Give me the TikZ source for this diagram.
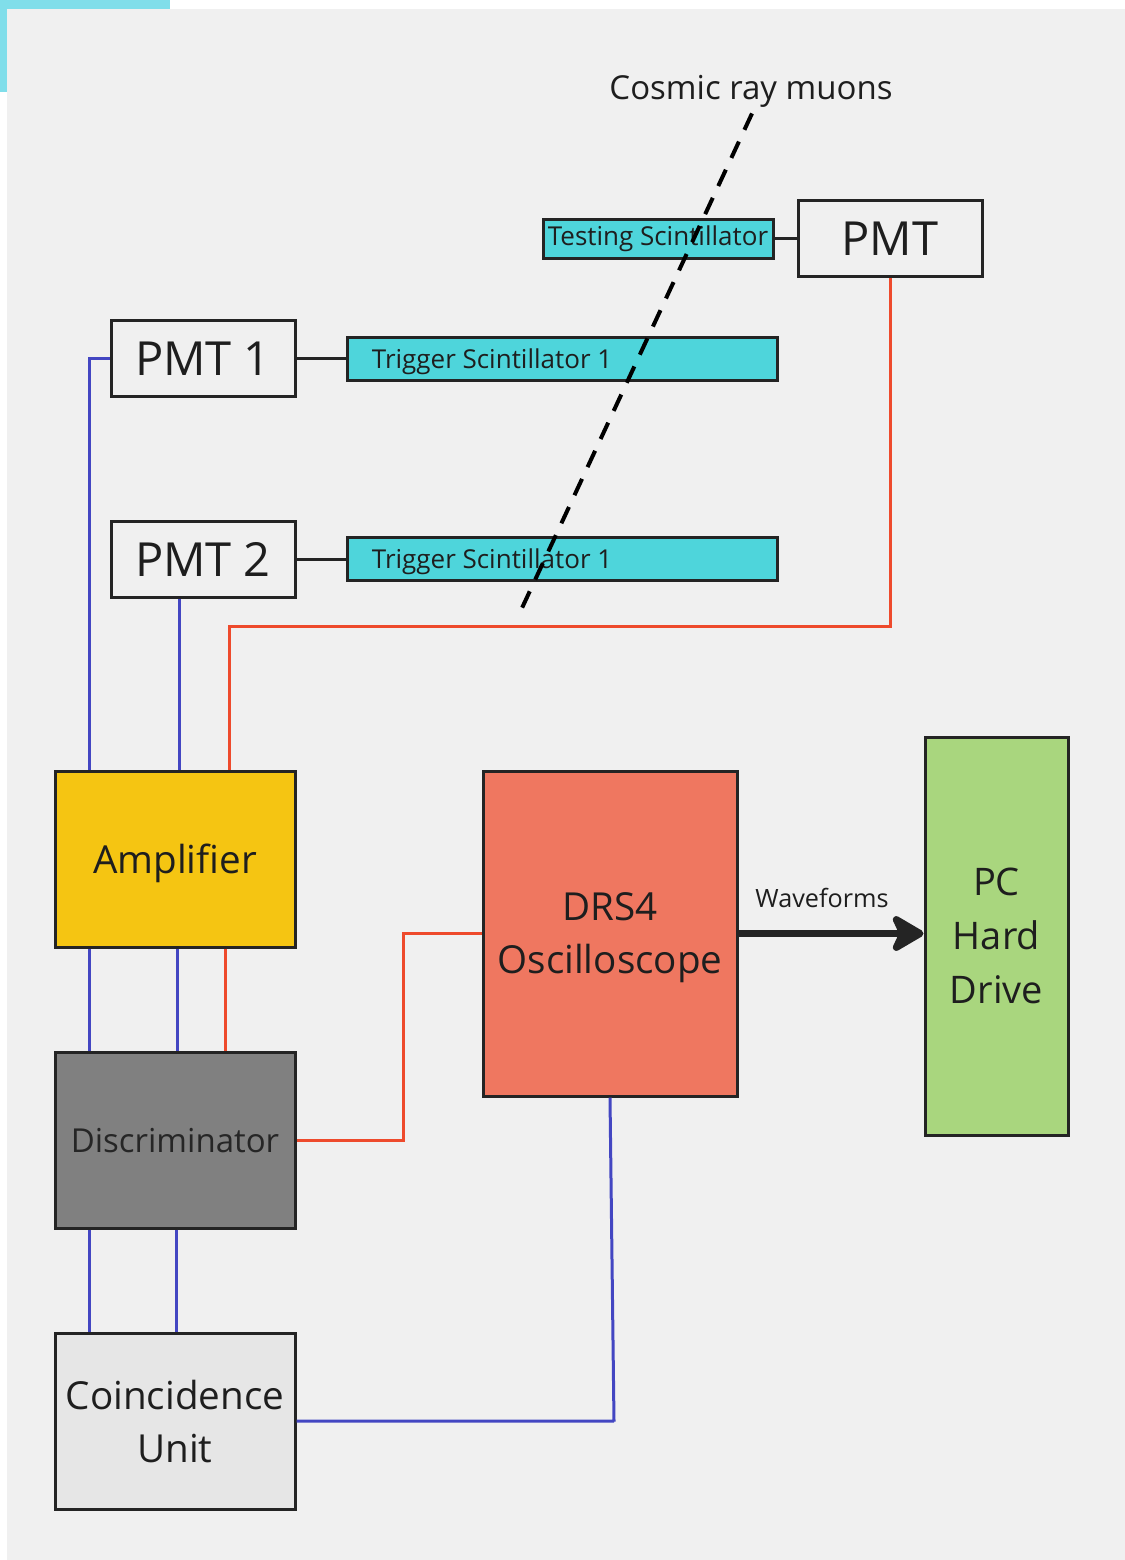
\documentclass[tikz,border=0pt]{standalone}
\usepackage{fontspec}
\setmainfont{Open Sans}
\usepackage{tikz}
\usetikzlibrary{arrows.meta, positioning, calc}

\definecolor{panelgray}{HTML}{F0F0F0}
\definecolor{cornercyan}{HTML}{80DEEA}
\definecolor{scintcyan}{HTML}{4ED5DB}
\definecolor{ampyellow}{HTML}{F5C512}
\definecolor{discgray}{HTML}{808080}
\definecolor{coincgray}{HTML}{E6E6E6}
\definecolor{drssalmon}{HTML}{EF7760}
\definecolor{pcgreen}{HTML}{A9D67E}
\definecolor{wireblue}{HTML}{4346C2}
\definecolor{wirered}{HTML}{EE4A2C}
\definecolor{boxline}{HTML}{242424}
\definecolor{textdark}{HTML}{1E1E1E}

\begin{document}
\begin{tikzpicture}[x=0.5pt, y=-0.5pt,
        box/.style={draw=boxline, line width=1.5pt, inner sep=0pt, align=center, text=textdark},
        pmt box/.style={box, minimum width=92pt, minimum height=38pt,
                        font=\fontsize{23.5}{28}\selectfont},
        scint/.style={box, fill=scintcyan, minimum width=215pt, minimum height=21.5pt},
        scint text/.style={anchor=west, inner sep=0pt, text=textdark,
                           font=\fontsize{13}{15}\selectfont},
        unit box/.style={box, text depth=0pt, minimum width=120pt, minimum height=88pt,
                         font=\fontsize{19.3}{26.5}\selectfont},
        blue wire/.style={draw=wireblue, line width=1.5pt},
        red wire/.style={draw=wirered, line width=1.5pt},
        link/.style={draw=boxline, line width=1.5pt}]

    % Page and panel
    \useasboundingbox (0,0) rectangle (1125,1560);
    \fill[white] (0,0) rectangle (1125,1560);
    \fill[cornercyan] (0,0) rectangle (170,92);
    \fill[panelgray] (7,9) rectangle (1125,1560);

    % Detector stack
    \node[font=\fontsize{16.5}{20}\selectfont, text=textdark, inner sep=0pt] (muons) at (751,91) {Cosmic ray muons};
    \node[box, fill=scintcyan, minimum width=115pt, minimum height=19.5pt,
          font=\fontsize{13}{15}\selectfont] (tscint) at (658,238.5) {Testing Scintillator};
    \node[pmt box] (pmt) at (890,238.5) {PMT};

    \node[pmt box] (pmt1) at (203,358.5) {PMT 1};
    \node[scint] (trig1) at (562,358.5) {};
    \node[scint text, right=13pt of trig1.west, yshift=-1.5pt] {Trigger Scintillator 1};

    \node[pmt box] (pmt2) at (203,559) {PMT 2};
    \node[scint] (trig2) at (562,559) {};
    \node[scint text, right=13pt of trig2.west, yshift=-1.5pt] {Trigger Scintillator 1};

    % Electronics
    \node[unit box, fill=ampyellow] (amp) at (175,859) {Amplifier};
    \node[unit box, fill=discgray, font=\fontsize{16.5}{20}\selectfont, text=black!85] (disc) at (175,1140) {Discriminator};
    \node[unit box, fill=coincgray] (coinc) at (175,1421) {Coincidence\\Unit};
    \node[box, text depth=0pt, fill=drssalmon, minimum width=127pt, minimum height=162.5pt,
          font=\fontsize{19.3}{26.5}\selectfont] (drs4) at (610,933.5) {DRS4\\Oscilloscope};
    \node[box, fill=pcgreen, minimum width=71.5pt, minimum height=199pt,
          font=\fontsize{19}{27}\selectfont] (pc) at (996.5,936) {PC\\Hard\\Drive};

    % Scintillator to PMT couplings
    \draw[link] (tscint.east) -- (pmt.west);
    \draw[link] (pmt1.east) -- (trig1.west);
    \draw[link] (pmt2.east) -- (trig2.west);

    % Muon track
    \coordinate (muonend) at (522,608);
    \draw[line width=2pt, dash pattern=on 9pt off 6.5pt, black] ([xshift=0.5pt,yshift=-3pt]muons.south) -- (muonend);

    % Signal cables
    \draw[blue wire] (pmt1.west) -| ($(amp.north west)+(36,0)$);
    \draw[blue wire] ($(pmt2.south)+(-24,0)$) -- ($(amp.north)+(4,0)$);
    \draw[red wire] (pmt.south) -- ++(0,348) -| ($(amp.north)+(54,0)$);

    \draw[blue wire] ($(amp.south west)+(36,0)$) -- ($(disc.north west)+(36,0)$);
    \draw[blue wire] ($(amp.south)+(2,0)$) -- ($(disc.north)+(2,0)$);
    \draw[red wire] ($(amp.south)+(50,0)$) -- ($(disc.north)+(50,0)$);

    \draw[blue wire] ($(disc.south west)+(36,0)$) -- ($(coinc.north west)+(36,0)$);
    \draw[blue wire] ($(disc.south)+(1,0)$) -- ($(coinc.north)+(1,0)$);

    \draw[red wire] (disc.east) -- ++(107,0) |- (drs4.west);
    \draw[blue wire] (drs4.south) -- ($(drs4.south)+(4,324)$) -- (coinc.east -| {$(drs4.south)+(4,0)$}) -- (coinc.east);

    % Data out
    \draw[line width=3.5pt, -{Stealth[length=19pt, width=22pt, inset=5pt, round]}, boxline]
        (drs4.east) -- (drs4.east -| pc.west)
        node[midway, above=8pt, xshift=-4.5pt, text=textdark, font=\fontsize{12.6}{15}\selectfont] {Waveforms};
\end{tikzpicture}
\end{document}
